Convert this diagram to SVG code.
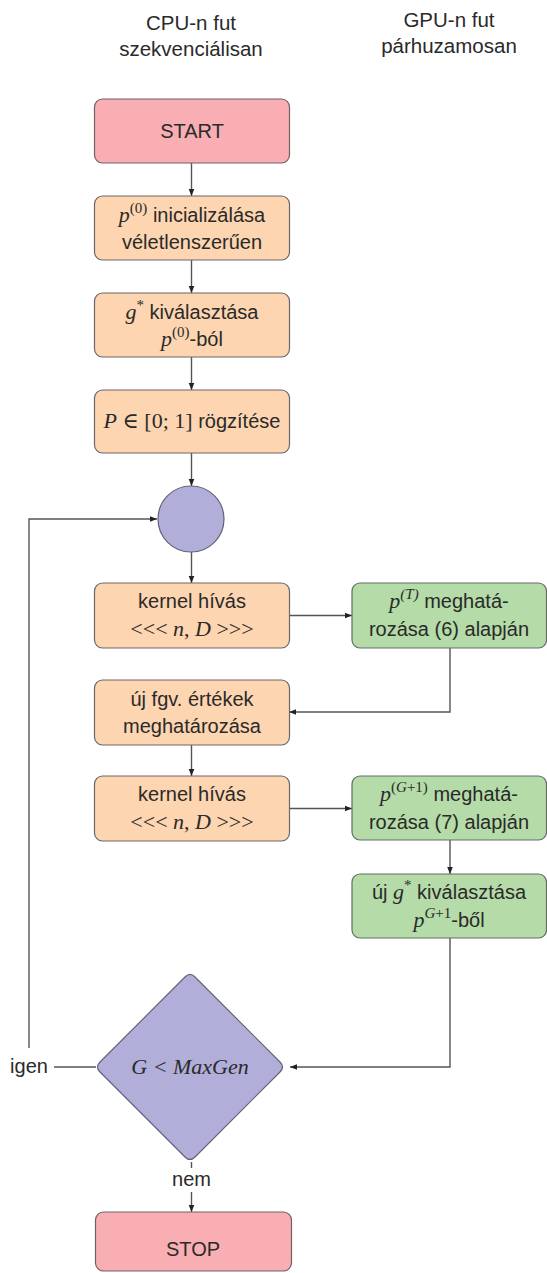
<svg xmlns="http://www.w3.org/2000/svg" width="547" height="1273" viewBox="0 0 547 1273">
<defs>
<marker id="arr" viewBox="0 0 10 10" refX="10" refY="5" markerWidth="7" markerHeight="7" orient="auto" markerUnits="userSpaceOnUse">
<path d="M0,1 L10,5 L0,9 z" fill="#222"/>
</marker>
<style>
text{font-family:"Liberation Sans","DejaVu Sans",sans-serif;font-size:20px;fill:#2a2a2a;text-anchor:middle}
.h{font-size:20.5px}
.m{font-family:"Liberation Serif","DejaVu Serif",serif;font-style:italic;font-size:22px}
.r{font-family:"Liberation Serif","DejaVu Serif",serif;font-size:22px}
.sup{font-family:"Liberation Serif","DejaVu Serif",serif;font-size:15px}
.supi{font-family:"Liberation Serif","DejaVu Serif",serif;font-size:15px;font-style:italic}
.pink{fill:#f8aeb3;stroke:#6e6262;stroke-width:1.2}
.orange{fill:#fdd5b1;stroke:#6e6666;stroke-width:1.2}
.green{fill:#b4dba8;stroke:#626e62;stroke-width:1.2}
.purple{fill:#b1afd9;stroke:#62627a;stroke-width:1.2}
.c{fill:none;stroke:#555;stroke-width:1.4}
.lbg{fill:#fff}
</style>
</defs>

<g id="headers">
<text class="h" x="191" y="30">CPU-n fut</text>
<text class="h" x="191" y="56">szekvenciálisan</text>
<text class="h" x="449" y="27">GPU-n fut</text>
<text class="h" x="449" y="53">párhuzamosan</text>
</g>

<g id="connectors">
<line class="c" x1="191.5" y1="163" x2="191.5" y2="196" marker-end="url(#arr)"/>
<line class="c" x1="191.5" y1="260" x2="191.5" y2="293" marker-end="url(#arr)"/>
<line class="c" x1="191.5" y1="357" x2="191.5" y2="390" marker-end="url(#arr)"/>
<line class="c" x1="191.5" y1="453" x2="191.5" y2="486" marker-end="url(#arr)"/>
<line class="c" x1="191.5" y1="552" x2="191.5" y2="583" marker-end="url(#arr)"/>
<line class="c" x1="289" y1="615.5" x2="352" y2="615.5" marker-end="url(#arr)"/>
<path class="c" d="M450,648 V712 H289" marker-end="url(#arr)"/>
<line class="c" x1="191.5" y1="745" x2="191.5" y2="776" marker-end="url(#arr)"/>
<line class="c" x1="289" y1="808.5" x2="352" y2="808.5" marker-end="url(#arr)"/>
<line class="c" x1="450" y1="840" x2="450" y2="874" marker-end="url(#arr)"/>
<path class="c" d="M450,938 V1067 H290" marker-end="url(#arr)"/>
<path class="c" d="M96,1067 H29 V519 H157" marker-end="url(#arr)"/>
<rect class="lbg" x="4" y="1048" width="50" height="36"/>
<text x="29" y="1073">igen</text>
<line class="c" x1="191.5" y1="1162" x2="191.5" y2="1212" marker-end="url(#arr)"/>
<rect class="lbg" x="168" y="1168" width="47" height="24"/>
<text x="191.5" y="1186">nem</text>
</g>

<g id="start">
<rect class="pink" x="94.5" y="99" width="195" height="64" rx="8"/>
<text x="192" y="138">START</text>
</g>

<g id="init">
<rect class="orange" x="94.5" y="196" width="195" height="64" rx="8"/>
<text x="192" y="222"><tspan class="m">p</tspan><tspan class="sup" dy="-9">(0)</tspan><tspan dy="9"> inicializálása</tspan></text>
<text x="192" y="249">véletlenszerűen</text>
</g>

<g id="select">
<rect class="orange" x="94.5" y="293" width="195" height="64" rx="8"/>
<text x="192" y="319"><tspan class="m">g</tspan><tspan class="sup" dy="-9">*</tspan><tspan dy="9"> kiválasztása</tspan></text>
<text x="192" y="346"><tspan class="m">p</tspan><tspan class="sup" dy="-9">(0)</tspan><tspan dy="9">-ból</tspan></text>
</g>

<g id="fix">
<rect class="orange" x="94.5" y="390" width="195" height="63" rx="8"/>
<text x="192" y="428"><tspan class="m">P</tspan><tspan class="r"> ∈ [0; 1]</tspan> rögzítése</text>
</g>

<g id="join">
<circle class="purple" cx="191" cy="519" r="33"/>
</g>

<g id="kernel1">
<rect class="orange" x="94.5" y="583" width="195" height="65" rx="8"/>
<text x="192" y="608">kernel hívás</text>
<text x="192" y="636"><tspan class="r">&lt;&lt;&lt; </tspan><tspan class="m">n</tspan><tspan class="r">, </tspan><tspan class="m">D</tspan><tspan class="r"> &gt;&gt;&gt;</tspan></text>
</g>

<g id="gpu1">
<rect class="green" x="352" y="583" width="194.5" height="65" rx="8"/>
<text x="449" y="608"><tspan class="m">p</tspan><tspan class="supi" dy="-9">(T)</tspan><tspan dy="9"> meghatá-</tspan></text>
<text x="449" y="636">rozása (6) alapján</text>
</g>

<g id="fgv">
<rect class="orange" x="94.5" y="680" width="195" height="65" rx="8"/>
<text x="192" y="706">új fgv. értékek</text>
<text x="192" y="733">meghatározása</text>
</g>

<g id="kernel2">
<rect class="orange" x="94.5" y="776" width="195" height="65" rx="8"/>
<text x="192" y="801">kernel hívás</text>
<text x="192" y="829"><tspan class="r">&lt;&lt;&lt; </tspan><tspan class="m">n</tspan><tspan class="r">, </tspan><tspan class="m">D</tspan><tspan class="r"> &gt;&gt;&gt;</tspan></text>
</g>

<g id="gpu2">
<rect class="green" x="352" y="776" width="194.5" height="64" rx="8"/>
<text x="449" y="801"><tspan class="m">p</tspan><tspan class="sup" dy="-9">(<tspan font-style="italic">G</tspan>+1)</tspan><tspan dy="9"> meghatá-</tspan></text>
<text x="449" y="829">rozása (7) alapján</text>
</g>

<g id="gpu3">
<rect class="green" x="352" y="874" width="194.5" height="64" rx="8"/>
<text x="449" y="899">új <tspan class="m">g</tspan><tspan class="sup" dy="-9">*</tspan><tspan dy="9"> kiválasztása</tspan></text>
<text x="449" y="927"><tspan class="m">p</tspan><tspan class="sup" dy="-9"><tspan font-style="italic">G</tspan>+1</tspan><tspan dy="9">-ből</tspan></text>
</g>

<g id="decision">
<path class="purple" d="M185,977 Q190,972 195,977 L280,1062 Q285,1067 280,1072 L195,1157 Q190,1162 185,1157 L100,1072 Q95,1067 100,1062 Z"/>
<text class="m" x="190" y="1074">G &lt; MaxGen</text>
</g>

<g id="stop">
<rect class="pink" x="95.5" y="1212" width="196" height="59" rx="8"/>
<text x="193" y="1256">STOP</text>
</g>
</svg>
